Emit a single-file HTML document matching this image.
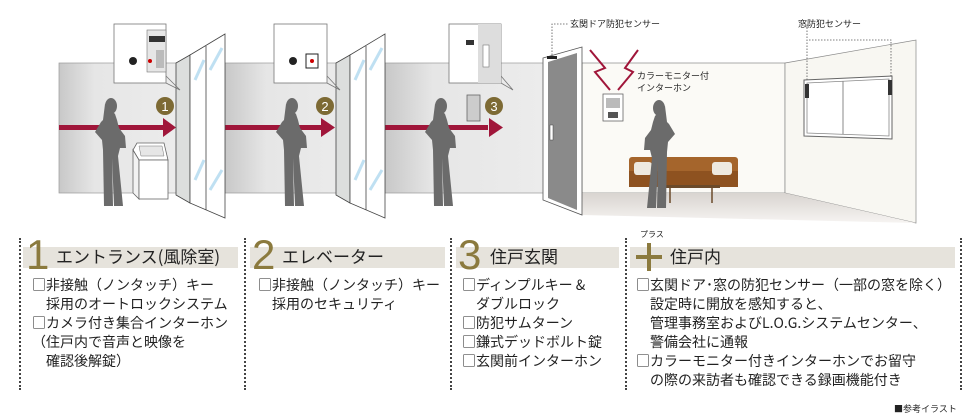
<!DOCTYPE html>
<html><head><meta charset="utf-8"><style>
body{margin:0;background:#fff;width:980px;height:420px;overflow:hidden;font-family:"Noto Sans CJK JP","Liberation Sans",sans-serif;color:#222}
.abs{position:absolute}
.sep{position:absolute;top:238px;height:152px;border-left:2px dotted #444}
.bar{position:absolute;top:247px;height:21px;background:#e6e3dc}
.num{position:absolute;top:234px;font-size:42px;color:#8b7a3e;line-height:42px;font-family:"Liberation Sans",sans-serif}
.ttl{position:absolute;top:245px;font-size:17px;line-height:22px;color:#222}
.txt{position:absolute;font-size:14px;line-height:19px;white-space:pre;color:#222}
.lbl{position:absolute;font-size:9px;color:#222;white-space:nowrap}
</style></head><body>
<svg class="abs" style="left:0;top:0" width="980" height="232" viewBox="0 0 980 232">
<defs>
<linearGradient id="w" x1="0" x2="1"><stop offset="0" stop-color="#c8c8c8"/><stop offset="0.3" stop-color="#e6e6e6"/><stop offset="1" stop-color="#ececec"/></linearGradient>
<linearGradient id="fl" x1="0" y1="0" x2="0" y2="1"><stop offset="0" stop-color="#d8d4d0"/><stop offset="1" stop-color="#f6f4f2"/></linearGradient>
<g id="p"><ellipse cx="0" cy="8" rx="6" ry="8" fill="#6b6b6b"/><path d="M-6 6 L-8 22 L-10 24 L-16 34 L-9 42 L-8 52 L-7 108 L2 108 L1 60 L3 108 L12 108 L7 58 L9 50 L15 50 L14 38 L8 30 L6 22 L4 16 Z" fill="#6b6b6b"/></g>
</defs>
<rect x="59" y="63" width="119" height="130" fill="url(#w)" stroke="#999" stroke-width="0.7"/>
<rect x="225" y="63" width="138" height="130" fill="url(#w)" stroke="#999" stroke-width="0.7"/>
<rect x="385" y="63" width="160" height="130" fill="url(#w)" stroke="#999" stroke-width="0.7"/>
<rect x="582" y="63" width="203" height="130" fill="#fbfaf6" stroke="#888" stroke-width="0.7"/>
<polygon points="785,63 916,40 916,223 785,193" fill="#f8f7f2" stroke="#888" stroke-width="0.7"/>
<polygon points="582,193 785,193 916,223 582,215" fill="url(#fl)"/>
<g fill="#a0163a"><rect x="59" y="125" width="108" height="5"/><polygon points="163,118 176,127.5 163,137"/>
<rect x="225" y="125" width="103" height="5"/><polygon points="321,118 335,127.5 321,137"/>
<rect x="385" y="125" width="103" height="5"/><polygon points="489,118 503,127.5 489,137"/></g>
<g fill="#7d6a34"><circle cx="165" cy="106" r="9"/><circle cx="325" cy="106" r="9"/><circle cx="494" cy="106" r="9"/></g>
<g fill="#fff" font-size="13" text-anchor="middle" font-family="Liberation Sans"><text x="165" y="111">1</text><text x="325" y="111">2</text><text x="494" y="111">3</text></g>
<g stroke="#444" stroke-width="0.8">
<polygon points="176,63 190,55 190,203 176,195" fill="#dcdedd"/>
<polygon points="190,55 225,34 225,218 190,203" fill="#fff"/>
<line x1="206" y1="46" x2="206" y2="210"/>
<polygon points="336,63 350,55 350,203 336,195" fill="#dcdedd"/>
<polygon points="350,55 385,34 385,218 350,203" fill="#fff"/>
<line x1="366" y1="46" x2="366" y2="210"/>
</g>
<g stroke="#bfe0f2" stroke-width="3"><line x1="195" y1="80" x2="204" y2="60"/><line x1="210" y1="70" x2="222" y2="48"/><line x1="195" y1="180" x2="204" y2="160"/><line x1="210" y1="190" x2="222" y2="170"/>
<line x1="355" y1="80" x2="364" y2="60"/><line x1="370" y1="70" x2="382" y2="48"/><line x1="355" y1="180" x2="364" y2="160"/><line x1="370" y1="190" x2="382" y2="170"/></g>
<!-- kiosk -->
<polygon points="133,150 137,143 164,143 168,160 139,160" fill="#fff" stroke="#666" stroke-width="0.8"/>
<polygon points="139,146 162,146 164,156 141,156" fill="#e6e6e6" stroke="#777" stroke-width="0.5"/>
<polygon points="133,150 139,160 139,199 133,193" fill="#f2f2f2" stroke="#666" stroke-width="0.8"/>
<rect x="139" y="160" width="29" height="39" fill="#fff" stroke="#666" stroke-width="0.8"/>
<rect x="467" y="95" width="13" height="26" fill="#ccc" stroke="#666" stroke-width="0.8"/>
<g fill="#fff" stroke="#777" stroke-width="0.8"><rect x="114" y="24" width="52" height="59"/><rect x="274" y="24" width="53" height="59"/><rect x="449" y="24" width="52" height="59"/></g>
<g stroke="#777" stroke-width="0.8" fill="none"><polyline points="166,76 180,90 166,83"/><polyline points="327,76 340,90 327,83"/><polyline points="501,76 513,90 501,83"/></g>
<rect x="147" y="30" width="19" height="42" fill="#e6e6e6" stroke="#777" stroke-width="0.6"/><rect x="149" y="36" width="16" height="6" fill="#333"/>
<rect x="156" y="50" width="8" height="18" fill="#bbb"/>
<circle cx="133" cy="61" r="4" fill="#222"/><circle cx="150" cy="61" r="2" fill="#c00"/>
<circle cx="293" cy="61" r="4" fill="#222"/><rect x="306" y="54" width="12" height="14" fill="#fff" stroke="#222"/><circle cx="312" cy="61" r="2" fill="#c00"/>
<rect x="478" y="24" width="23" height="59" fill="#ddd"/><rect x="483" y="45" width="6" height="22" fill="#fff" stroke="#777" stroke-width="0.6"/>
<rect x="466" y="40" width="8" height="5" fill="#333"/>
<polygon points="543,58 582,47 582,215 543,200" fill="#fff" stroke="#555" stroke-width="0.8"/>
<polygon points="548,62 577,53 577,210 548,198" fill="#8a8a8a"/>
<rect x="550" y="125" width="3" height="15" fill="#fff" stroke="#444" stroke-width="0.5"/>
<rect x="547" y="56" width="10" height="3" fill="#222"/>
<g stroke="#555" stroke-width="0.8" stroke-dasharray="1.5,1.5" fill="none">
<polyline points="552,55 552,24 568,24"/><polyline points="807,80 807,24"/><polyline points="809,40 891,40 891,80"/></g>
<g fill="none" stroke="#a0163a" stroke-width="2"><polyline points="590,50 605,68 595,72 610,90"/><polyline points="638,50 625,68 633,72 618,90"/></g>
<rect x="603" y="94" width="20" height="27" fill="#fff" stroke="#666" stroke-width="0.8"/><rect x="606" y="98" width="14" height="10" fill="#bbb"/><rect x="608" y="112" width="10" height="6" fill="#555"/>
<polygon points="804,80 892,76 892,139 804,136" fill="#fff" stroke="#666" stroke-width="1"/>
<polygon points="807,83 889,79 889,136 807,133" fill="none" stroke="#888" stroke-width="0.8"/>
<line x1="843" y1="81" x2="843" y2="134" stroke="#888"/>
<rect x="805" y="84" width="4" height="14" fill="#333"/><rect x="888" y="80" width="4" height="15" fill="#333"/>
<rect x="629" y="157" width="109" height="30" rx="3" fill="#a5652c"/><rect x="629" y="171" width="109" height="16" fill="#8e5220"/>
<rect x="634" y="162" width="18" height="13" rx="3" fill="#eee9df"/><rect x="712" y="162" width="20" height="13" rx="3" fill="#eee9df"/>
<rect x="665" y="185" width="55" height="3" fill="#6b4a2a"/><line x1="670" y1="188" x2="670" y2="203" stroke="#6b4a2a" stroke-width="1.5"/><line x1="712" y1="188" x2="712" y2="203" stroke="#6b4a2a" stroke-width="1.5"/>
<use href="#p" transform="translate(111,98)"/>
<use href="#p" transform="translate(292,98)"/>
<use href="#p" transform="translate(441,98)"/>
<use href="#p" transform="translate(659,100) scale(-1,1)"/>
</svg>
<div class="lbl" style="left:570px;top:17px">玄関ドア防犯センサー</div>
<div class="lbl" style="left:798px;top:17px">窓防犯センサー</div>
<div class="lbl" style="left:637px;top:70px;line-height:12px">カラーモニター付<br>インターホン</div>

<div class="sep" style="left:19px"></div><div class="sep" style="left:244px"></div><div class="sep" style="left:450px"></div><div class="sep" style="left:625px"></div><div class="sep" style="left:960px"></div>
<div class="bar" style="left:23px;width:215px"></div><div class="bar" style="left:250px;width:195px"></div><div class="bar" style="left:456px;width:163px"></div><div class="bar" style="left:630px;width:325px"></div>
<div class="num" style="left:26px">1</div><div class="ttl" style="left:56px">エントランス(風除室)</div>
<div class="num" style="left:252px">2</div><div class="ttl" style="left:282px">エレベーター</div>
<div class="num" style="left:458px">3</div><div class="ttl" style="left:490px">住戸玄関</div>
<div class="abs" style="left:636px;top:255px;width:26px;height:4px;background:#8b7a3e"></div>
<div class="abs" style="left:647px;top:243px;width:4px;height:28px;background:#8b7a3e"></div>
<div class="lbl" style="left:640px;top:229px;font-size:8px">プラス</div>
<div class="ttl" style="left:670px">住戸内</div>
<div class="txt" style="left:32px;top:276px">□非接触（ノンタッチ）キー
　採用のオートロックシステム
□カメラ付き集合インターホン
（住戸内で音声と映像を
　確認後解錠）</div>
<div class="txt" style="left:258px;top:276px">□非接触（ノンタッチ）キー
　採用のセキュリティ</div>
<div class="txt" style="left:462px;top:276px">□ディンプルキー &amp;
　ダブルロック
□防犯サムターン
□鎌式デッドボルト錠
□玄関前インターホン</div>
<div class="txt" style="left:636px;top:276px">□玄関ドア･窓の防犯センサー（一部の窓を除く）
　設定時に開放を感知すると、
　管理事務室およびL.O.G.システムセンター、
　警備会社に通報
□カラーモニター付きインターホンでお留守
　の際の来訪者も確認できる録画機能付き</div>
<div class="lbl" style="left:894px;top:402px">■参考イラスト</div>
</body></html>
